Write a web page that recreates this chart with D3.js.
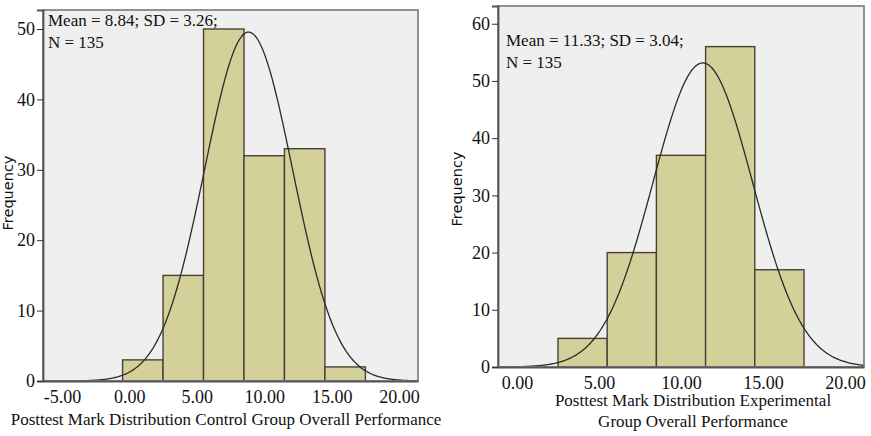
<!DOCTYPE html>
<html>
<head>
<meta charset="utf-8">
<script src="https://cdn.jsdelivr.net/npm/d3@7"></script>
<style>
  body { margin: 0; background: #fff; }
  svg { display: block; }
</style>
</head>
<body>
<svg></svg>
<script>
// histogram bins (lower edges) and counts
const binWidth = 3;
const controlBins = [-0.5, 2.5, 5.5, 8.5, 11.5, 14.5];
const controlCounts = [3, 15, 50, 32, 33, 2];
const expBins = [2.5, 5.5, 8.5, 11.5, 14.5];
const expCounts = [5, 20, 37, 56, 17];

const controlStats = { mean: 8.84, sd: 3.26, n: 135 };
const expStats = { mean: 11.33, sd: 3.04, n: 135 };

const controlXTicks = [-5, 0, 5, 10, 15, 20];
const expXTicks = [0, 5, 10, 15, 20];
const controlYTicks = [0, 10, 20, 30, 40, 50];
const expYTicks = [0, 10, 20, 30, 40, 50, 60];

const svgWidth = 871;
const svgHeight = 436;

const svg = d3.select('svg')
    .attr('width', svgWidth)
    .attr('height', svgHeight);

const serif = '"Liberation Serif", "Times New Roman", serif';
const sans = '"DejaVu Sans", "Liberation Sans", sans-serif';
const fmt = d => d3.format('.2f')(d).replace('\u2212', '-');

function panel(opts) {
    const g = svg.append('g');
    const x = d3.scaleLinear().domain(opts.xDomain).range([opts.left, opts.right]);
    const y = d3.scaleLinear().domain(opts.yDomain).range([opts.bottom, opts.top]);

    const clipId = 'clip' + opts.id;
    svg.append('clipPath').attr('id', clipId)
        .append('rect')
        .attr('x', opts.left).attr('y', opts.top)
        .attr('width', opts.right - opts.left)
        .attr('height', opts.bottom - opts.top);

    g.append('rect')
        .attr('x', opts.left).attr('y', opts.top)
        .attr('width', opts.right - opts.left)
        .attr('height', opts.bottom - opts.top)
        .attr('fill', '#efefef');

    const bins = opts.bins.map((b, i) => ({ x0: b, x1: b + binWidth, count: opts.counts[i] }));

    g.selectAll('.bar')
        .data(bins)
        .enter().append('rect')
        .attr('class', 'bar')
        .attr('x', d => x(d.x0))
        .attr('y', d => y(d.count))
        .attr('width', d => x(d.x1) - x(d.x0))
        .attr('height', d => y(0) - y(d.count))
        .attr('fill', '#d4d09a')
        .attr('stroke', '#474334')
        .attr('stroke-width', 1.4);

    // fitted normal curve from the stated mean, SD and N
    const s = opts.stats;
    const pts = d3.range(opts.xDomain[0], opts.xDomain[1] + 0.05, 0.05).map(v => {
        const z = (v - s.mean) / s.sd;
        return [v, s.n * binWidth * Math.exp(-0.5 * z * z) / (s.sd * Math.sqrt(2 * Math.PI))];
    });
    g.append('path')
        .datum(pts)
        .attr('clip-path', `url(#${clipId})`)
        .attr('fill', 'none')
        .attr('stroke', '#2a2a2a')
        .attr('stroke-width', 1.3)
        .attr('d', d3.line().x(d => x(d[0])).y(d => y(d[1])));

    // frame
    g.append('rect')
        .attr('x', opts.left).attr('y', opts.top)
        .attr('width', opts.right - opts.left)
        .attr('height', opts.bottom - opts.top)
        .attr('fill', 'none')
        .attr('stroke', '#858585')
        .attr('stroke-width', 1.8);

    const yAxis = g.append('g')
        .attr('transform', `translate(${opts.left}, 0)`)
        .call(d3.axisLeft(y).tickValues(opts.yTicks).tickSize(6).tickPadding(2));
    yAxis.select('.domain').attr('stroke', '#555').attr('stroke-width', 1.8);
    yAxis.selectAll('.tick line').attr('stroke', '#333');
    yAxis.selectAll('.tick text')
        .attr('font-family', serif).attr('font-size', '18px').attr('fill', '#111');

    const xAxis = g.append('g')
        .attr('transform', `translate(0, ${opts.bottom})`)
        .call(d3.axisBottom(x).tickValues(opts.xTicks).tickSize(0).tickPadding(9)
            .tickFormat(fmt));
    xAxis.select('.domain').attr('stroke', '#555').attr('stroke-width', 1.8);
    xAxis.selectAll('.tick text')
        .attr('font-family', serif).attr('font-size', '18px').attr('fill', '#111');

    g.append('text')
        .attr('transform', `translate(${opts.yLabelX}, ${opts.yLabelY}) rotate(-90)`)
        .attr('text-anchor', 'middle')
        .attr('dy', '0.35em')
        .attr('font-family', sans)
        .attr('font-size', '14.5px')
        .attr('fill', '#111')
        .text('Frequency');

    opts.statLines.forEach((t, i) => {
        g.append('text')
            .attr('x', opts.statX)
            .attr('y', opts.statY + i * 22)
            .attr('font-family', serif)
            .attr('font-size', '17px')
            .attr('fill', '#111')
            .text(t);
    });

    opts.titleLines.forEach((t, i) => {
        g.append('text')
            .attr('x', opts.titleX)
            .attr('y', opts.titleY + i * 21)
            .attr('text-anchor', 'middle')
            .attr('font-family', serif)
            .attr('font-size', '17px')
            .attr('fill', '#111')
            .text(t);
    });
}

panel({
    id: 'a',
    left: 43, right: 418, top: 10, bottom: 381,
    xDomain: [-6.4, 21.4], yDomain: [0, 52.7],
    xTicks: controlXTicks, yTicks: controlYTicks,
    bins: controlBins, counts: controlCounts, stats: controlStats,
    yLabelX: 8, yLabelY: 193,
    statX: 48, statY: 26,
    statLines: [`Mean = ${controlStats.mean}; SD = ${controlStats.sd};`, `N = ${controlStats.n}`],
    titleX: 226, titleY: 425,
    titleLines: ['Posttest Mark Distribution Control Group Overall Performance']
});

panel({
    id: 'b',
    left: 498, right: 864, top: 6, bottom: 367,
    xDomain: [-1.16, 21.16], yDomain: [0, 63.1],
    xTicks: expXTicks, yTicks: expYTicks,
    bins: expBins, counts: expCounts, stats: expStats,
    yLabelX: 457, yLabelY: 189,
    statX: 506, statY: 46,
    statLines: [`Mean = ${expStats.mean}; SD = ${expStats.sd};`, `N = ${expStats.n}`],
    titleX: 693, titleY: 406,
    titleLines: ['Posttest Mark Distribution Experimental', 'Group Overall Performance']
});
</script>
</body>
</html>
